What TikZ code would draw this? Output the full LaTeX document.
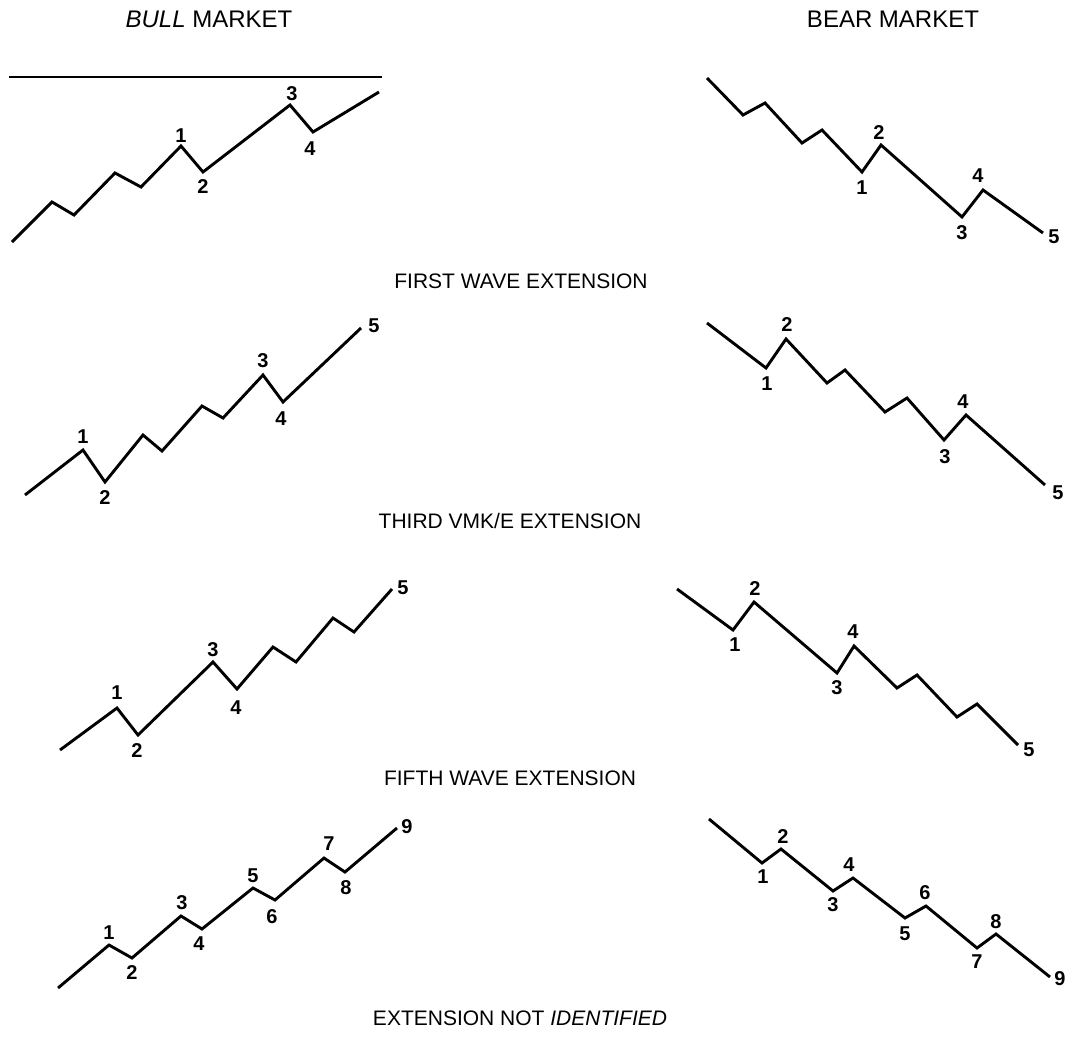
\documentclass[tikz,border=0pt]{standalone}
\usepackage{fontspec}
\setmainfont{Liberation Sans}

\begin{document}
\begin{tikzpicture}[x=1pt,y=-1pt,
  wave/.style={line width=2.9pt, line join=miter},
  num/.style={font=\fontsize{20}{20}\selectfont\bfseries, inner sep=0pt},
  heading/.style={font=\fontsize{21}{21}\selectfont, inner sep=0pt},
  colhead/.style={font=\fontsize{24}{24}\selectfont, inner sep=0pt}]

  \useasboundingbox (0,0) rectangle (1070,1036);

  %% Column headings
  \node[colhead] (bullhead) at (209,19) {\textit{BULL} MARKET};
  \node[colhead] (bearhead) at (893,19) {BEAR MARKET};

  %% First wave extension
  \draw[line width=2.6pt] (9,77) -- (382,77);
  \draw[wave] (12,242) -- (52,202) -- (74,215) -- (115,173) -- (141,187)
    -- (181,146) -- (203,172) -- (290,105) -- (313,132) -- (379,92);
  \foreach \n/\p in {1/{181,136}, 2/{203,187}, 3/{292,94}, 4/{310,149}}
    \node[num] (bullA-\n) at (\p) {\n};

  \draw[wave] (707,78) -- (743,115) -- (765,103) -- (802,143) -- (822,130)
    -- (862,172) -- (881,145) -- (962,217) -- (983,190) -- (1043,233);
  \foreach \n/\p in {1/{862,188}, 2/{879,133}, 3/{962,233}, 4/{978,176}, 5/{1054,237}}
    \node[num] (bearA-\n) at (\p) {\n};

  \node[heading] (firsthead) at (521,281) {FIRST WAVE EXTENSION};

  %% Third wave extension
  \draw[wave] (25,495) -- (83,450) -- (105,482) -- (143,435) -- (162,451)
    -- (202,406) -- (223,418) -- (263,375) -- (283,402) -- (361,328);
  \foreach \n/\p in {1/{83,437}, 2/{105,498}, 3/{263,361}, 4/{281,419}, 5/{374,326}}
    \node[num] (bullB-\n) at (\p) {\n};

  \draw[wave] (707,323) -- (766,368) -- (786,339) -- (827,383) -- (845,370)
    -- (885,412) -- (907,398) -- (944,440) -- (966,415) -- (1045,485);
  \foreach \n/\p in {1/{767,384}, 2/{787,325}, 3/{945,457}, 4/{963,402}, 5/{1058,493}}
    \node[num] (bearB-\n) at (\p) {\n};

  \node[heading] (thirdhead) at (510,521) {THIRD VMK/E EXTENSION};

  %% Fifth wave extension
  \draw[wave] (60,750) -- (117,708) -- (138,735) -- (213,662) -- (237,689)
    -- (273,647) -- (296,662) -- (333,618) -- (354,632) -- (392,589);
  \foreach \n/\p in {1/{117,693}, 2/{137,751}, 3/{213,650}, 4/{236,708}, 5/{403,588}}
    \node[num] (bullC-\n) at (\p) {\n};

  \draw[wave] (677,589) -- (733,630) -- (754,602) -- (837,673) -- (854,646)
    -- (897,688) -- (917,675) -- (957,717) -- (977,704) -- (1018,745);
  \foreach \n/\p in {1/{735,645}, 2/{755,589}, 3/{837,688}, 4/{853,632}, 5/{1029,750}}
    \node[num] (bearC-\n) at (\p) {\n};

  \node[heading] (fifthhead) at (510,778) {FIFTH WAVE EXTENSION};

  %% No extension identified
  \draw[wave] (58,988) -- (109,945) -- (132,958) -- (181,916) -- (202,929)
    -- (253,888) -- (275,900) -- (324,858) -- (345,872) -- (397,828);
  \foreach \n/\p in {1/{109,933}, 2/{132,973}, 3/{182,903}, 4/{199,944}, 5/{253,876},
                     6/{272,917}, 7/{329,844}, 8/{346,888}, 9/{407,827}}
    \node[num] (bullD-\n) at (\p) {\n};

  \draw[wave] (709,819) -- (762,863) -- (781,849) -- (833,891) -- (853,878)
    -- (905,918) -- (926,906) -- (977,948) -- (996,934) -- (1050,977);
  \foreach \n/\p in {1/{763,877}, 2/{783,837}, 3/{833,905}, 4/{849,865}, 5/{905,934},
                     6/{925,893}, 7/{977,962}, 8/{996,922}, 9/{1060,979}}
    \node[num] (bearD-\n) at (\p) {\n};

  \node[heading] (nonehead) at (520,1018) {EXTENSION NOT \textit{IDENTIFIED}};

\end{tikzpicture}
\end{document}
